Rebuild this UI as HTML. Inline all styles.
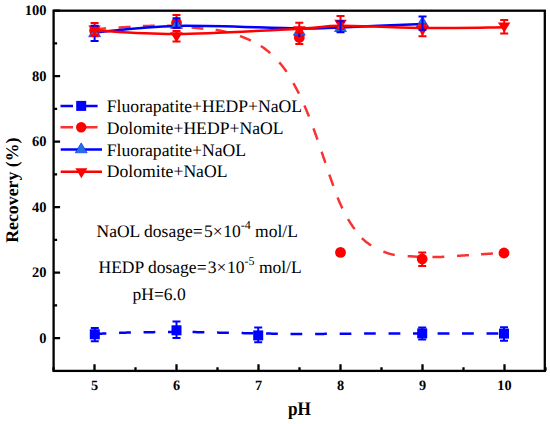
<!DOCTYPE html><html><head><meta charset="utf-8"><style>html,body{margin:0;padding:0;background:#fff;}svg{display:block;}text{font-family:"Liberation Serif",serif;text-rendering:geometricPrecision;}</style></head><body>
<svg width="550" height="424" viewBox="0 0 550 424">
<rect width="550" height="424" fill="#fff"/>
<path d="M94.50,334.00 L94.81,333.99 L95.14,333.97 L95.50,333.96 L95.87,333.94 L96.28,333.92 L96.70,333.90 L97.14,333.88 L97.60,333.86 L98.08,333.83 L98.58,333.81 L99.10,333.79 L99.63,333.76 L100.18,333.73 L100.75,333.71 L101.32,333.68 L101.91,333.65 L102.52,333.62 L103.13,333.59 L103.76,333.57 L104.39,333.54 L105.04,333.50 L105.69,333.47 L106.35,333.44 L106.35,333.44M119.06,332.88 L119.70,332.86 L120.33,332.83 L120.95,332.81 L121.56,332.79 L122.15,332.76 L122.74,332.74 L123.31,332.72 L123.86,332.70 L124.41,332.69 L124.95,332.67 L125.48,332.65 L126.01,332.64 L126.54,332.62 L127.06,332.61 L127.58,332.59 L128.10,332.58 L128.61,332.56 L129.12,332.55 L129.63,332.54 L130.13,332.52 L130.63,332.51 L130.88,332.51M143.54,332.28 L144.04,332.27 L144.53,332.27 L145.03,332.26 L145.53,332.25 L146.04,332.24 L146.55,332.24 L147.06,332.23 L147.57,332.22 L148.09,332.21 L148.61,332.21 L149.13,332.20 L149.66,332.19 L150.19,332.18 L150.73,332.17 L151.28,332.17 L151.83,332.16 L152.38,332.15 L152.94,332.14 L153.50,332.13 L154.06,332.13 L154.63,332.12 L155.20,332.11 L155.34,332.11M168.00,331.95 L168.56,331.95 L169.11,331.94 L169.66,331.94 L170.20,331.94 L170.74,331.93 L171.27,331.93 L171.80,331.92 L172.32,331.92 L172.84,331.92 L173.35,331.91 L173.85,331.91 L174.35,331.91 L174.84,331.91 L175.33,331.90 L175.80,331.90 L176.27,331.90 L176.73,331.90 L177.18,331.90 L177.62,331.90 L178.05,331.90 L178.47,331.90 L178.88,331.90 L179.29,331.90 L179.68,331.90 L179.88,331.90M192.54,332.06 L192.95,332.06 L193.36,332.07 L193.79,332.08 L194.22,332.09 L194.66,332.09 L195.11,332.10 L195.57,332.11 L196.03,332.12 L196.49,332.13 L196.96,332.14 L197.43,332.15 L197.90,332.16 L198.38,332.16 L198.86,332.17 L199.34,332.19 L199.83,332.20 L200.31,332.21 L200.81,332.22 L201.30,332.23 L201.80,332.24 L202.30,332.25 L202.81,332.26 L203.32,332.27 L203.83,332.29 L204.34,332.30 L204.34,332.30M217.05,332.59 L217.66,332.61 L218.26,332.62 L218.88,332.63 L219.49,332.65 L220.11,332.66 L220.74,332.67 L221.37,332.69 L222.00,332.70 L222.64,332.71 L223.29,332.73 L223.94,332.74 L224.60,332.75 L225.27,332.77 L225.94,332.78 L226.62,332.79 L227.31,332.81 L228.00,332.82 L228.70,332.84 L228.88,332.84M241.58,333.09 L242.34,333.11 L243.10,333.12 L243.86,333.14 L244.62,333.15 L245.38,333.17 L246.15,333.18 L246.91,333.19 L247.67,333.21 L248.43,333.22 L249.19,333.24 L249.95,333.25 L250.70,333.26 L251.46,333.28 L252.21,333.29 L252.96,333.30 L253.34,333.31M266.09,333.53 L266.78,333.54 L267.47,333.56 L268.16,333.57 L268.85,333.58 L269.54,333.59 L270.22,333.60 L270.91,333.62 L271.60,333.63 L272.28,333.64 L272.97,333.65 L273.66,333.66 L274.35,333.67 L275.04,333.69 L275.73,333.70 L276.43,333.71 L277.12,333.72 L277.82,333.73 L277.82,333.73M290.50,333.88 L291.28,333.88 L292.08,333.89 L292.88,333.89 L293.68,333.90 L294.50,333.90 L295.33,333.90 L296.16,333.91 L297.01,333.91 L297.86,333.91 L298.72,333.92 L299.60,333.92 L300.48,333.92 L301.37,333.92 L302.26,333.92 L302.26,333.92M315.12,333.91 L316.08,333.90 L317.04,333.90 L318.00,333.90 L318.96,333.89 L319.93,333.89 L320.89,333.89 L321.85,333.88 L322.81,333.88 L323.77,333.88 L324.72,333.87 L325.67,333.87 L326.63,333.86 L326.86,333.86M339.64,333.80 L340.50,333.80 L341.35,333.80 L342.20,333.79 L343.04,333.79 L343.87,333.78 L344.70,333.78 L345.52,333.77 L346.34,333.77 L347.15,333.76 L347.96,333.76 L348.77,333.75 L349.57,333.74 L350.36,333.74 L351.16,333.73 L351.36,333.73M364.10,333.62 L364.87,333.61 L365.64,333.60 L366.40,333.60 L367.17,333.59 L367.94,333.58 L368.71,333.58 L369.49,333.57 L370.26,333.56 L371.04,333.56 L371.82,333.55 L372.60,333.55 L373.38,333.54 L374.17,333.53 L374.96,333.53 L375.76,333.52 L375.76,333.52M388.55,333.46 L389.40,333.46 L390.25,333.46 L391.10,333.45 L391.95,333.45 L392.81,333.45 L393.66,333.45 L394.52,333.44 L395.38,333.44 L396.24,333.44 L397.10,333.44 L397.96,333.43 L398.82,333.43 L399.68,333.43 L400.33,333.43M413.01,333.41 L413.87,333.40 L414.72,333.40 L415.57,333.40 L416.42,333.40 L417.26,333.40 L418.11,333.40 L418.95,333.40 L419.79,333.40 L420.63,333.40 L421.46,333.40 L422.29,333.40 L423.12,333.40 L423.95,333.40 L424.78,333.40 L424.78,333.40M437.59,333.43 L438.39,333.43 L439.20,333.44 L440.00,333.44 L440.81,333.44 L441.61,333.45 L442.41,333.45 L443.21,333.45 L444.02,333.45 L444.82,333.46 L445.62,333.46 L446.42,333.46 L447.23,333.47 L448.03,333.47 L448.83,333.47 L449.43,333.47M461.98,333.50 L462.80,333.50 L463.62,333.50 L464.46,333.50 L465.32,333.50 L466.19,333.50 L467.07,333.50 L467.97,333.50 L468.88,333.50 L469.80,333.49 L470.73,333.49 L471.66,333.49 L472.61,333.49 L473.56,333.49 L473.80,333.49M486.52,333.46 L487.44,333.45 L488.37,333.45 L489.28,333.45 L490.17,333.44 L491.06,333.44 L491.93,333.44 L492.79,333.44 L493.63,333.43 L494.46,333.43 L495.27,333.43 L496.06,333.43 L496.83,333.42 L497.58,333.42 L498.31,333.42 L498.31,333.42" fill="none" stroke="#0000ff" stroke-width="2.5"/>
<path d="M94.50,29.20 L94.81,29.18 L95.15,29.16 L95.51,29.13 L95.90,29.11 L96.31,29.08 L96.74,29.05 L97.19,29.02 L97.67,28.99 L98.16,28.95 L98.67,28.92 L99.20,28.88 L99.75,28.84 L100.31,28.80 L100.88,28.77 L101.47,28.72 L102.08,28.68 L102.70,28.64 L103.32,28.60 L103.96,28.55 L104.61,28.51 L105.27,28.47 L105.94,28.42 L106.11,28.41M118.55,27.58 L119.21,27.53 L119.86,27.49 L120.50,27.45 L121.13,27.41 L121.75,27.37 L122.35,27.33 L122.95,27.30 L123.53,27.26 L124.09,27.23 L124.64,27.19 L125.18,27.16 L125.71,27.13 L126.24,27.09 L126.77,27.06 L127.29,27.03 L127.81,27.00 L128.33,26.96 L128.84,26.93 L129.35,26.90 L129.85,26.87 L130.35,26.84 L130.48,26.83M142.87,26.12 L143.33,26.10 L143.80,26.08 L144.27,26.06 L144.74,26.04 L145.21,26.02 L145.69,26.00 L146.16,25.99 L146.64,25.97 L147.12,25.95 L147.59,25.94 L148.07,25.92 L148.56,25.91 L149.04,25.89 L149.53,25.88 L150.01,25.87 L150.50,25.85 L150.98,25.84 L151.46,25.82 L151.95,25.81 L152.43,25.80 L152.92,25.78 L153.40,25.77 L153.88,25.76 L154.37,25.75 L154.73,25.74M167.05,25.63 L167.54,25.64 L168.02,25.64 L168.51,25.65 L168.99,25.66 L169.48,25.68 L169.96,25.69 L170.45,25.70 L170.93,25.72 L171.42,25.74 L171.90,25.75 L172.39,25.77 L172.88,25.79 L173.37,25.82 L173.85,25.84 L174.34,25.87 L174.83,25.89 L175.32,25.92 L175.81,25.95 L176.30,25.99 L176.79,26.02 L177.28,26.05 L177.77,26.09 L178.26,26.13 L178.75,26.16 L178.87,26.17M191.65,27.46 L192.14,27.52 L192.63,27.57 L193.12,27.62 L193.60,27.68 L194.09,27.73 L194.58,27.79 L195.07,27.84 L195.56,27.89 L196.04,27.94 L196.53,28.00 L197.01,28.05 L197.50,28.10 L197.98,28.15 L198.47,28.20 L198.95,28.25 L199.44,28.29 L199.92,28.34 L200.40,28.38 L200.89,28.43 L201.37,28.47 L201.85,28.51 L202.33,28.56 L202.81,28.60 L203.29,28.64 L203.41,28.65M215.63,29.89 L216.11,29.96 L216.59,30.03 L217.07,30.10 L217.55,30.17 L218.02,30.25 L218.50,30.33 L218.98,30.41 L219.46,30.50 L219.94,30.59 L220.42,30.68 L220.90,30.78 L221.38,30.87 L221.86,30.98 L222.34,31.08 L222.83,31.19 L223.31,31.29 L223.80,31.40 L224.28,31.51 L224.77,31.63 L225.26,31.74 L225.75,31.86 L226.24,31.98 L226.73,32.10 L227.22,32.22 L227.34,32.25M240.00,36.08 L240.47,36.25 L240.94,36.42 L241.41,36.59 L241.87,36.76 L242.34,36.94 L242.80,37.11 L243.25,37.29 L243.71,37.47 L244.16,37.65 L244.61,37.83 L245.06,38.02 L245.50,38.20 L245.94,38.39 L246.38,38.57 L246.82,38.76 L247.25,38.95 L247.69,39.13 L248.12,39.32 L248.55,39.51 L248.98,39.70 L249.40,39.89 L249.83,40.09 L250.25,40.28 L250.67,40.48 L250.88,40.58M260.84,46.00 L261.23,46.25 L261.61,46.50 L262.00,46.75 L262.38,47.01 L262.76,47.27 L263.14,47.53 L263.53,47.80 L263.91,48.07 L264.28,48.34 L264.66,48.62 L265.04,48.90 L265.42,49.18 L265.79,49.47 L266.17,49.76 L266.54,50.06 L266.92,50.35 L267.29,50.66 L267.67,50.96 L268.04,51.27 L268.41,51.58 L268.78,51.89 L269.15,52.21 L269.52,52.53 L269.89,52.85 L270.26,53.18 L270.26,53.18M279.28,62.38 L279.61,62.76 L279.94,63.14 L280.27,63.52 L280.59,63.91 L280.91,64.29 L281.23,64.68 L281.55,65.06 L281.86,65.45 L282.17,65.84 L282.49,66.22 L282.79,66.61 L283.10,67.00 L283.40,67.39 L283.71,67.78 L284.00,68.18 L284.30,68.57 L284.60,68.97 L284.89,69.38 L285.18,69.78 L285.47,70.19 L285.75,70.59 L286.04,71.00 L286.32,71.41 L286.60,71.83 L286.60,71.83M293.39,83.13 L293.63,83.57 L293.88,84.01 L294.12,84.45 L294.36,84.89 L294.60,85.33 L294.84,85.77 L295.07,86.21 L295.31,86.65 L295.55,87.09 L295.79,87.53 L296.02,87.97 L296.26,88.41 L296.49,88.85 L296.73,89.29 L296.96,89.73 L297.19,90.17 L297.42,90.62 L297.65,91.06 L297.88,91.50 L298.10,91.95 L298.33,92.39 L298.55,92.84 L298.77,93.29 L298.94,93.62M304.35,105.41 L304.55,105.87 L304.75,106.33 L304.95,106.78 L305.14,107.24 L305.34,107.70 L305.54,108.16 L305.73,108.61 L305.93,109.07 L306.12,109.53 L306.31,109.99 L306.51,110.44 L306.70,110.90 L306.89,111.36 L307.08,111.81 L307.27,112.27 L307.46,112.73 L307.65,113.19 L307.84,113.65 L308.03,114.11 L308.21,114.57 L308.40,115.03 L308.58,115.48 L308.76,115.94 L308.95,116.40 L308.95,116.40M313.48,128.43 L313.65,128.90 L313.82,129.36 L313.99,129.82 L314.16,130.29 L314.32,130.75 L314.49,131.22 L314.66,131.68 L314.83,132.14 L315.00,132.61 L315.16,133.07 L315.33,133.54 L315.50,134.00 L315.67,134.46 L315.83,134.93 L316.00,135.39 L316.17,135.86 L316.33,136.32 L316.50,136.79 L316.66,137.26 L316.83,137.72 L316.99,138.19 L317.15,138.65 L317.32,139.12 L317.48,139.59 L317.48,139.59M321.61,151.73 L321.77,152.20 L321.93,152.66 L322.08,153.13 L322.24,153.59 L322.40,154.06 L322.55,154.52 L322.71,154.99 L322.87,155.45 L323.03,155.91 L323.18,156.38 L323.34,156.84 L323.50,157.30 L323.66,157.76 L323.82,158.22 L323.97,158.68 L324.13,159.15 L324.28,159.61 L324.44,160.07 L324.60,160.53 L324.75,160.99 L324.91,161.45 L325.06,161.91 L325.21,162.37 L325.37,162.83 L325.41,162.94M329.34,174.61 L329.49,175.06 L329.65,175.52 L329.81,175.98 L329.97,176.43 L330.13,176.89 L330.29,177.35 L330.45,177.80 L330.61,178.26 L330.77,178.72 L330.93,179.17 L331.10,179.63 L331.26,180.09 L331.42,180.54 L331.59,181.00 L331.75,181.46 L331.91,181.92 L332.07,182.38 L332.24,182.84 L332.40,183.30 L332.56,183.76 L332.72,184.22 L332.89,184.68 L333.05,185.14 L333.21,185.60 L333.29,185.83M337.59,197.53 L337.77,197.98 L337.95,198.43 L338.13,198.88 L338.32,199.33 L338.50,199.78 L338.69,200.23 L338.88,200.67 L339.07,201.12 L339.26,201.56 L339.46,202.01 L339.65,202.45 L339.85,202.89 L340.05,203.33 L340.25,203.77 L340.45,204.21 L340.65,204.65 L340.85,205.09 L341.06,205.53 L341.26,205.97 L341.46,206.41 L341.67,206.85 L341.87,207.29 L342.08,207.73 L342.29,208.16 L342.39,208.38M348.04,219.18 L348.29,219.59 L348.53,220.00 L348.78,220.41 L349.02,220.81 L349.27,221.22 L349.52,221.62 L349.78,222.02 L350.03,222.42 L350.29,222.82 L350.55,223.22 L350.81,223.61 L351.07,224.00 L351.33,224.39 L351.60,224.78 L351.86,225.17 L352.12,225.56 L352.39,225.95 L352.65,226.34 L352.92,226.73 L353.19,227.11 L353.45,227.50 L353.72,227.88 L353.99,228.27 L354.26,228.65 L354.53,229.03 L354.60,229.13M361.90,238.07 L362.23,238.40 L362.56,238.73 L362.90,239.05 L363.24,239.38 L363.59,239.70 L363.94,240.02 L364.29,240.33 L364.64,240.64 L365.00,240.95 L365.37,241.25 L365.74,241.55 L366.11,241.85 L366.49,242.15 L366.87,242.44 L367.26,242.73 L367.65,243.02 L368.05,243.31 L368.46,243.59 L368.86,243.88 L369.28,244.16 L369.69,244.44 L370.11,244.72 L370.54,244.99 L370.96,245.27 L371.18,245.40M383.37,251.60 L383.86,251.79 L384.34,251.98 L384.82,252.17 L385.30,252.35 L385.78,252.52 L386.26,252.69 L386.74,252.86 L387.22,253.03 L387.69,253.18 L388.17,253.34 L388.64,253.49 L389.12,253.64 L389.59,253.78 L390.07,253.91 L390.54,254.04 L391.02,254.16 L391.50,254.28 L391.98,254.40 L392.46,254.50 L392.95,254.61 L393.43,254.70 L393.92,254.80 L394.40,254.89 L394.77,254.95M407.64,256.16 L408.14,256.19 L408.64,256.21 L409.13,256.24 L409.63,256.27 L410.13,256.29 L410.63,256.32 L411.12,256.35 L411.62,256.37 L412.12,256.40 L412.61,256.43 L413.11,256.47 L413.60,256.50 L414.09,256.53 L414.59,256.57 L415.08,256.60 L415.58,256.63 L416.07,256.66 L416.57,256.68 L417.06,256.71 L417.56,256.74 L418.05,256.76 L418.55,256.79 L419.05,256.81 L419.54,256.83 L419.54,256.83M432.46,257.07 L432.95,257.07 L433.45,257.07 L433.95,257.06 L434.44,257.06 L434.94,257.05 L435.43,257.05 L435.93,257.04 L436.42,257.03 L436.92,257.03 L437.41,257.02 L437.91,257.01 L438.40,257.00 L438.89,256.99 L439.39,256.98 L439.88,256.96 L440.38,256.95 L440.87,256.93 L441.37,256.91 L441.86,256.89 L442.35,256.87 L442.85,256.85 L443.34,256.83 L443.84,256.81 L444.33,256.78 L444.33,256.78M457.02,255.92 L457.51,255.88 L458.00,255.85 L458.49,255.81 L458.98,255.78 L459.47,255.74 L459.96,255.71 L460.44,255.67 L460.93,255.64 L461.42,255.60 L461.91,255.57 L462.39,255.54 L462.88,255.51 L463.37,255.48 L463.85,255.45 L464.34,255.41 L464.84,255.38 L465.33,255.35 L465.83,255.32 L466.33,255.29 L466.82,255.25 L467.32,255.22 L467.83,255.19 L468.33,255.15 L468.83,255.12 L468.95,255.11M481.04,254.30 L481.51,254.27 L481.97,254.24 L482.43,254.20 L482.89,254.17 L483.34,254.14 L483.79,254.11 L484.23,254.08 L484.67,254.05 L485.10,254.03 L485.53,254.00 L485.96,253.97 L486.38,253.94 L486.79,253.91 L487.21,253.89 L487.62,253.86 L488.03,253.83 L488.44,253.81 L488.85,253.78 L489.27,253.75 L489.68,253.72 L490.09,253.70 L490.50,253.67 L490.91,253.64 L491.32,253.62 L491.73,253.59 L492.14,253.56 L492.55,253.54 L492.95,253.51 L492.95,253.51" fill="none" stroke="#fa3232" stroke-width="2.5"/>
<path d="M94.50,32.40 C108.17,31.32 142.50,26.57 176.50,25.90 C210.50,25.23 271.17,28.15 298.50,28.40 C325.83,28.65 319.83,28.15 340.50,27.40 C361.17,26.65 408.83,24.48 422.50,23.90" fill="none" stroke="#0000ff" stroke-width="2.5"/>
<path d="M94.50,30.40 C108.17,31.00 142.50,34.27 176.50,34.00 C210.50,33.73 271.17,30.17 298.50,28.80 C325.83,27.43 319.83,25.93 340.50,25.80 C361.17,25.67 395.17,27.77 422.50,28.00 C449.83,28.23 490.83,27.33 504.50,27.20" fill="none" stroke="#ff0000" stroke-width="2.5"/>
<rect x="89.8" y="329.3" width="10.0" height="10.0" fill="#0000ff"/>
<rect x="171.5" y="325.3" width="10.0" height="10.0" fill="#0000ff"/>
<rect x="253.2" y="330.4" width="10.0" height="10.0" fill="#0000ff"/>
<rect x="417.2" y="328.4" width="10.0" height="10.0" fill="#0000ff"/>
<rect x="499.0" y="328.6" width="10.0" height="10.0" fill="#0000ff"/>
<circle cx="94.6" cy="30.5" r="5.4" fill="#ff0000"/>
<circle cx="176.5" cy="22.8" r="5.4" fill="#ff0000"/>
<circle cx="299.3" cy="37.4" r="5.4" fill="#ff0000"/>
<circle cx="340.5" cy="252.4" r="5.4" fill="#ff0000"/>
<circle cx="422.2" cy="259.0" r="5.4" fill="#ff0000"/>
<circle cx="504.0" cy="253.0" r="5.4" fill="#ff0000"/>
<path d="M94.6,26.8L100.6,36.8L88.6,36.8Z" fill="#1f74e4" stroke="#0000ff" stroke-width="0.5"/>
<path d="M176.5,18.4L182.5,28.4L170.5,28.4Z" fill="#1f74e4" stroke="#0000ff" stroke-width="0.5"/>
<path d="M299.3,25.2L305.3,35.2L293.3,35.2Z" fill="#1f74e4" stroke="#0000ff" stroke-width="0.5"/>
<path d="M340.5,21.5L346.5,31.5L334.5,31.5Z" fill="#1f74e4" stroke="#0000ff" stroke-width="0.5"/>
<path d="M422.5,16.5L428.5,26.5L416.5,26.5Z" fill="#1f74e4" stroke="#0000ff" stroke-width="0.5"/>
<path d="M88.3,25.5L100.8,25.5L94.6,35.5Z" fill="#ff0000"/>
<path d="M170.2,32.3L182.8,32.3L176.5,42.3Z" fill="#ff0000"/>
<path d="M293.1,26.2L305.6,26.2L299.3,36.2Z" fill="#ff0000"/>
<path d="M334.2,19.8L346.8,19.8L340.5,29.8Z" fill="#ff0000"/>
<path d="M416.2,25.8L428.8,25.8L422.5,35.8Z" fill="#ff0000"/>
<path d="M497.9,22.5L510.4,22.5L504.2,32.5Z" fill="#ff0000"/>
<path d="M94.8,328.0V341.2M90.8,328.0h8.0M90.8,341.2h8.0" stroke="#0000ff" stroke-width="2" fill="none"/>
<path d="M176.5,321.5V338.0M172.5,321.5h8.0M172.5,338.0h8.0" stroke="#0000ff" stroke-width="2" fill="none"/>
<path d="M258.2,327.5V342.3M254.2,327.5h8.0M254.2,342.3h8.0" stroke="#0000ff" stroke-width="2" fill="none"/>
<path d="M422.2,327.4V339.6M418.2,327.4h8.0M418.2,339.6h8.0" stroke="#0000ff" stroke-width="2" fill="none"/>
<path d="M504.0,327.2V340.7M500.0,327.2h8.0M500.0,340.7h8.0" stroke="#0000ff" stroke-width="2" fill="none"/>
<path d="M94.6,26.0V35.0M90.6,26.0h8.0M90.6,35.0h8.0" stroke="#ff0000" stroke-width="2" fill="none"/>
<path d="M176.5,15.1V28.0M172.5,15.1h8.0M172.5,28.0h8.0" stroke="#ff0000" stroke-width="2" fill="none"/>
<path d="M299.3,33.0V44.0M295.3,33.0h8.0M295.3,44.0h8.0" stroke="#ff0000" stroke-width="2" fill="none"/>
<path d="M422.2,252.4V266.0M418.2,252.4h8.0M418.2,266.0h8.0" stroke="#ff0000" stroke-width="2" fill="none"/>
<path d="M94.6,23.0V36.0M90.6,23.0h8.0M90.6,36.0h8.0" stroke="#ff0000" stroke-width="2" fill="none"/>
<path d="M176.5,31.0V41.4M172.5,31.0h8.0M172.5,41.4h8.0" stroke="#ff0000" stroke-width="2" fill="none"/>
<path d="M299.3,22.7V36.0M295.3,22.7h8.0M295.3,36.0h8.0" stroke="#ff0000" stroke-width="2" fill="none"/>
<path d="M340.5,16.0V29.0M336.5,16.0h8.0M336.5,29.0h8.0" stroke="#ff0000" stroke-width="2" fill="none"/>
<path d="M422.5,24.0V36.3M418.5,24.0h8.0M418.5,36.3h8.0" stroke="#ff0000" stroke-width="2" fill="none"/>
<path d="M504.2,19.9V33.5M500.2,19.9h8.0M500.2,33.5h8.0" stroke="#ff0000" stroke-width="2" fill="none"/>
<path d="M90.6,25.7h8M90.6,41.0h8M94.6,36V41.0" stroke="#0000ff" stroke-width="2" fill="none"/>
<path d="M176.5,18.3V27.7M172.5,18.3h8.0M172.5,27.7h8.0" stroke="#0000ff" stroke-width="2" fill="none"/>
<path d="M299.3,33.0V37.0M299.3,33.0h0.0M299.3,37.0h0.0" stroke="#0000ff" stroke-width="2" fill="none"/>
<path d="M340.5,21.3V32.3M336.5,21.3h8.0M336.5,32.3h8.0" stroke="#0000ff" stroke-width="2" fill="none"/>
<path d="M422.5,16.6V29.7M418.5,16.6h8.0M418.5,29.7h8.0" stroke="#0000ff" stroke-width="2" fill="none"/>
<rect x="53.6" y="10.7" width="491.2" height="360.2" fill="none" stroke="#000" stroke-width="2.3"/>
<path d="M94.5,370.8v-6.5 M176.5,370.8v-6.5 M258.5,370.8v-6.5 M340.5,370.8v-6.5 M422.5,370.8v-6.5 M504.5,370.8v-6.5 M53.5,370.8v-3.5 M135.5,370.8v-3.5 M217.5,370.8v-3.5 M299.5,370.8v-3.5 M381.5,370.8v-3.5 M463.5,370.8v-3.5 M545.5,370.8v-3.5 M53.6,338.1h6.5 M53.6,272.6h6.5 M53.6,207.1h6.5 M53.6,141.7h6.5 M53.6,76.2h6.5 M53.6,10.7h6.5 M53.6,305.4h3.5 M53.6,239.9h3.5 M53.6,174.4h3.5 M53.6,108.9h3.5 M53.6,43.4h3.5" stroke="#000" stroke-width="2.3" fill="none"/>
<text x="94.5" y="389.7" font-size="14.3" font-weight="bold" text-anchor="middle">5</text>
<text x="176.5" y="389.7" font-size="14.3" font-weight="bold" text-anchor="middle">6</text>
<text x="258.5" y="389.7" font-size="14.3" font-weight="bold" text-anchor="middle">7</text>
<text x="340.5" y="389.7" font-size="14.3" font-weight="bold" text-anchor="middle">8</text>
<text x="422.5" y="389.7" font-size="14.3" font-weight="bold" text-anchor="middle">9</text>
<text x="504.5" y="389.7" font-size="14.3" font-weight="bold" text-anchor="middle">10</text>
<text x="46.5" y="342.7" font-size="14.5" font-weight="bold" text-anchor="end">0</text>
<text x="46.5" y="277.2" font-size="14.5" font-weight="bold" text-anchor="end">20</text>
<text x="46.5" y="211.7" font-size="14.5" font-weight="bold" text-anchor="end">40</text>
<text x="46.5" y="146.3" font-size="14.5" font-weight="bold" text-anchor="end">60</text>
<text x="46.5" y="80.8" font-size="14.5" font-weight="bold" text-anchor="end">80</text>
<text x="46.5" y="15.3" font-size="14.5" font-weight="bold" text-anchor="end">100</text>
<text x="288" y="414.6" font-size="19.3" font-weight="bold" textLength="22.9" lengthAdjust="spacingAndGlyphs">pH</text>
<text transform="translate(17.9,190.2) rotate(-90)" font-size="17.8" font-weight="bold" text-anchor="middle">Recovery (%)</text>
<path d="M60.5,105.9h12.5M85,105.9h12.6" stroke="#0000ff" stroke-width="2.5"/>
<rect x="76.2" y="100.9" width="10.0" height="10.0" fill="#0000ff"/>
<path d="M60.5,127.3h12.5M85,127.3h12.6" stroke="#fa3232" stroke-width="2.5"/>
<circle cx="81.2" cy="127.3" r="5.2" fill="#ff0000"/>
<path d="M60.7,149.6H102" stroke="#0000ff" stroke-width="2.5"/>
<path d="M81.2,142.8L87.2,152.8L75.2,152.8Z" fill="#1f74e4" stroke="#0000ff" stroke-width="0.5"/>
<path d="M60.7,171.7H102" stroke="#ff0000" stroke-width="2.5"/>
<path d="M75.4,168.2L87.4,168.2L81.4,178.2Z" fill="#ff0000"/>
<text x="106.8" y="111.9" font-size="17.65">Fluorapatite+HEDP+NaOL</text>
<text x="106.8" y="133.8" font-size="17.65">Dolomite+HEDP+NaOL</text>
<text x="106.8" y="155.5" font-size="17.65">Fluorapatite+NaOL</text>
<text x="106.8" y="177.3" font-size="17.65">Dolomite+NaOL</text>
<text x="96.5" y="236.8" font-size="17.5"><tspan textLength="106.2">NaOL dosage=</tspan><tspan dx="1.3">5×</tspan><tspan dx="0.6">10</tspan><tspan font-size="12" dy="-7.6">-4</tspan><tspan dy="7.6"> mol/L</tspan></text>
<text x="98.5" y="273" font-size="17.5"><tspan textLength="108">HEDP dosage=</tspan><tspan dx="1.3">3×</tspan><tspan dx="0.6">10</tspan><tspan font-size="12" dy="-7.6">-5</tspan><tspan dy="7.6"> mol/L</tspan></text>
<text x="132.5" y="299.6" font-size="17.5">pH=6.0</text>
</svg></body></html>
